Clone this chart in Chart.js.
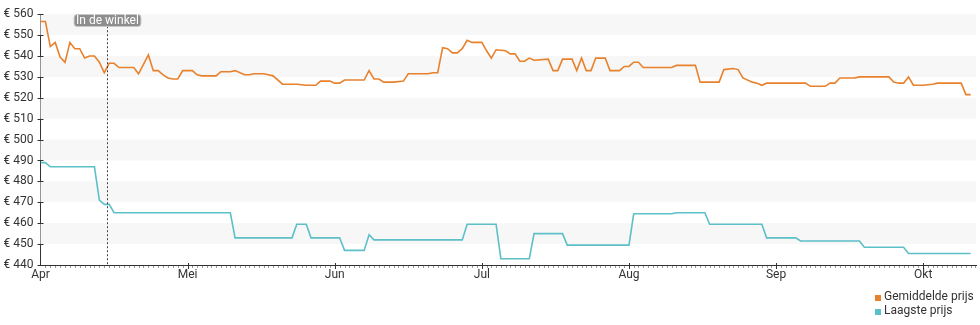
<!DOCTYPE html>
<html><head><meta charset="utf-8">
<script src="https://cdn.jsdelivr.net/npm/chart.js@4/dist/chart.umd.min.js"></script>
<style>
html,body{margin:0;padding:0;background:#fff;}
#wrap{position:relative;width:980px;height:325px;}
#legend{position:absolute;left:875px;top:290px;font:12px Roboto,sans-serif;color:#333;line-height:13.5px;}
#legend .row{position:relative;padding-left:9px;white-space:nowrap;}
#legend .sw{position:absolute;left:0;top:5px;width:6px;height:6px;}
</style></head><body>
<div id="wrap"><canvas id="c" width="980" height="325"></canvas><div id="legend"></div></div>
<script>
const monthLabels = ['Apr','Mei','Jun','Jul','Aug','Sep','Okt'];
const monthLengths = [30,31,30,31,31,30,31];
const yTicks = [440,450,460,470,480,490,500,510,520,530,540,550,560];
const seriesNames = ['Gemiddelde prijs','Laagste prijs'];
const storeLabel = 'In de winkel';
const storeDate = '04-14 12:30';

const avgDates = ['04-01','04-02','04-03','04-04','04-05','04-06','04-07','04-08','04-09','04-10','04-11','04-12','04-13','04-14','04-15','04-16','04-17','04-20','04-21','04-23','04-24','04-25','04-26','04-27','04-28','04-29','04-30',
'05-02','05-03','05-04','05-07','05-08','05-10','05-11','05-13','05-14','05-15','05-17','05-18','05-19','05-21','05-24','05-26','05-28','05-29','05-31',
'06-01','06-02','06-03','06-07','06-08','06-09','06-10','06-11','06-13','06-15','06-16','06-20','06-21','06-22','06-23','06-24','06-25','06-26','06-27','06-28','06-29',
'07-01','07-02','07-03','07-04','07-06','07-07','07-08','07-09','07-10','07-11','07-12','07-15','07-16','07-17','07-18','07-20','07-21','07-22','07-23','07-24','07-25','07-27','07-28','07-30','07-31',
'08-01','08-02','08-03','08-04','08-10','08-11','08-15','08-16','08-20','08-21','08-23','08-24','08-25','08-27','08-28','08-29','08-30',
'09-07','09-08','09-11','09-12','09-13','09-14','09-17','09-18','09-24','09-25','09-26','09-27','09-28','09-29',
'10-01','10-03','10-04','10-09','10-10','10-11'];
const avgPrices = [556.5,556.5,544.5,546.5,539.5,537,546.5,543.5,543.5,539,540,540,537,532,536.5,536.5,534.5,534.5,531.5,540.5,533,533,531,529.5,529,529,533,
533,531,530.5,530.5,532.5,532.5,533,531,531,531.5,531.5,531,530.5,526.5,526.5,526,526,528,528,
527,527,528.5,528.5,533,529,529,527.5,527.5,528,531.5,531.5,532,532,544,543.5,541.5,541.5,543.5,547.5,546.5,
546.5,542.5,539,543,542.5,541,541,537.5,537.5,539,538,538.5,533,533,538.5,538.5,533,539,533,533,539,539,533,533,535,
535,537,537,534.5,534.5,535.5,535.5,527.5,527.5,533.5,534,533.5,529.5,527.5,527,526,527,
527,525.5,525.5,527,527,529.5,529.5,530,530,527.5,527,527,530,526,
526,526.5,527,527,521.5,521.5];

const lowDates = ['04-01','04-02','04-03','04-12','04-13','04-14','04-15','04-16','05-10','05-11','05-23','05-24','05-26','05-27',
'06-02','06-03','06-07','06-08','06-09','06-27','06-28','07-04','07-05','07-11','07-12','07-18','07-19',
'08-01','08-02','08-10','08-11','08-17','08-18','08-29','08-30','09-05','09-06','09-18','09-19','09-27','09-28','10-11'];
const lowPrices = [489,489,487,487,471,469,469,465,465,453,453,459.5,459.5,453,
453,447,447,454.5,452,452,459.5,459.5,443,443,455,455,449.5,
449.5,464.5,464.5,465,465,459.5,459.5,453,453,451.5,451.5,448.5,448.5,445.5,445.5];

const colors = ['#e8812c','#5dbfc7'];

// month position of a date 'MM-DD' (optionally ' HH:MM'); each month spans one unit on the axis
function monthPos(s){
  const [md, hm] = s.split(' ');
  const [mm, dd] = md.split('-').map(Number);
  let h = 0;
  if (hm){ const [H,M] = hm.split(':').map(Number); h = H + M/60; }
  const mi = mm - 4;
  return mi + (dd - 1 + h/24) / monthLengths[mi];
}
const axisEnd = monthPos('10-12 03:00');

const bandsPlugin = {
  id:'bands',
  beforeDatasetsDraw(chart){
    const {ctx, chartArea:a, scales:{y}} = chart;
    ctx.save();
    ctx.fillStyle = '#f7f7f7';
    for (let i = 1; i < yTicks.length - 1; i += 2){
      const y1 = y.getPixelForValue(yTicks[i+1]);
      const y2 = y.getPixelForValue(yTicks[i]);
      ctx.fillRect(a.left, y1, a.right - a.left, y2 - y1);
    }
    ctx.restore();
  }
};

const ticksPlugin = {
  id:'tickmarks',
  afterDraw(chart){
    const {ctx, chartArea:a, scales:{x,y}} = chart;
    ctx.save();
    // minor daily ticks
    ctx.strokeStyle = '#999';
    ctx.lineWidth = 1;
    ctx.beginPath();
    for (let m = 0; m < monthLengths.length; m++){
      for (let d = 2; d <= monthLengths[m]; d++){
        const v = m + (d-1)/monthLengths[m];
        if (v > axisEnd) break;
        const px = Math.round(x.getPixelForValue(v)) + 0.5;
        ctx.moveTo(px, a.bottom + 1);
        ctx.lineTo(px, a.bottom + 3);
      }
    }
    ctx.stroke();
    // major ticks
    ctx.strokeStyle = '#333';
    ctx.beginPath();
    for (let m = 1; m < monthLabels.length; m++){
      const px = Math.round(x.getPixelForValue(m)) + 0.5;
      ctx.moveTo(px, a.bottom - 2);
      ctx.lineTo(px, a.bottom + 4);
    }
    for (const t of yTicks){
      const py = Math.round(y.getPixelForValue(t)) + 0.5;
      ctx.moveTo(a.left - 3, py);
      ctx.lineTo(a.left + 3, py);
    }
    ctx.stroke();
    ctx.restore();
  }
};

const storePlugin = {
  id:'store',
  afterDatasetsDraw(chart){
    const {ctx, chartArea:a, scales:{x}} = chart;
    const px = Math.round(x.getPixelForValue(monthPos(storeDate))) + 0.5;
    ctx.save();
    ctx.strokeStyle = '#444';
    ctx.lineWidth = 1;
    ctx.setLineDash([2,2]);
    ctx.beginPath();
    ctx.moveTo(px, a.top);
    ctx.lineTo(px, a.bottom);
    ctx.stroke();
    ctx.setLineDash([]);
    ctx.font = '12px Roboto, sans-serif';
    const w = ctx.measureText(storeLabel).width + 4;
    const h = 12, cy = 20.5;
    ctx.fillStyle = '#8e8e8e';
    ctx.strokeStyle = '#c8c8c8';
    ctx.beginPath();
    ctx.roundRect(px - w/2, cy - h/2, w, h, 3);
    ctx.fill();
    ctx.stroke();
    ctx.fillStyle = '#fff';
    ctx.textAlign = 'center';
    ctx.textBaseline = 'middle';
    ctx.fillText(storeLabel, px, cy + 0.5);
    ctx.restore();
  }
};

const chart = new Chart(document.getElementById('c'), {
  type:'line',
  data:{
    datasets:[
      {label:seriesNames[0], data:avgDates.map((d,i)=>({x:monthPos(d), y:avgPrices[i]})),
       borderColor:colors[0], backgroundColor:colors[0], borderWidth:1.6, pointRadius:0, tension:0, fill:false},
      {label:seriesNames[1], data:lowDates.map((d,i)=>({x:monthPos(d), y:lowPrices[i]})),
       borderColor:colors[1], backgroundColor:colors[1], borderWidth:1.6, pointRadius:0, tension:0, fill:false}
    ]
  },
  options:{
    responsive:false,
    animation:false,
    layout:{padding:{top:10,right:4,bottom:0,left:0}},
    plugins:{legend:{display:false}, tooltip:{enabled:false}},
    scales:{
      x:{
        type:'linear', min:0, max:axisEnd,
        afterBuildTicks(s){ s.ticks = monthLabels.map((_,i)=>({value:i})); },
        afterFit(s){ s.height = 60; },
        ticks:{autoSkip:false, maxRotation:0, padding:3, color:'#333', font:{family:'Roboto', size:12},
               callback:(v)=>monthLabels[v]},
        grid:{drawOnChartArea:false, drawTicks:false},
        border:{display:true, color:'#333', width:1}
      },
      y:{
        min:yTicks[0], max:yTicks[yTicks.length-1],
        afterBuildTicks(s){ s.ticks = yTicks.map(v=>({value:v})); },
        afterFit(s){ s.width = 40.5; },
        ticks:{padding:7, color:'#333', font:{family:'Roboto', size:12}, callback:(v)=>'€ ' + v},
        grid:{drawOnChartArea:false, drawTicks:false},
        border:{display:true, color:'#333', width:1}
      }
    }
  },
  plugins:[bandsPlugin, ticksPlugin, storePlugin]
});

const lg = document.getElementById('legend');
chart.data.datasets.forEach(ds=>{
  const r = document.createElement('div'); r.className='row';
  const sw = document.createElement('span'); sw.className='sw'; sw.style.background = ds.borderColor;
  r.appendChild(sw); r.appendChild(document.createTextNode(ds.label));
  lg.appendChild(r);
});
</script>
</body></html>
